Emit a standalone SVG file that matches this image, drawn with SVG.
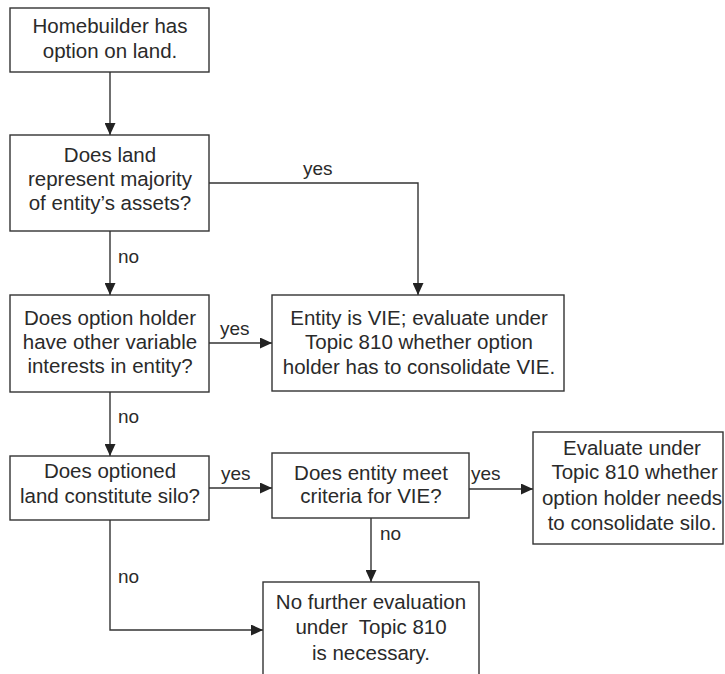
<svg xmlns="http://www.w3.org/2000/svg" width="725" height="674" viewBox="0 0 725 674">
<style>
.box{fill:#fff;stroke:#333;stroke-width:1.4}
.t{font-family:"Liberation Sans",Arial,sans-serif;font-size:20.5px;fill:#2a2a2a;text-anchor:middle;white-space:pre}
.lbl{font-family:"Liberation Sans",Arial,sans-serif;font-size:19px;fill:#2a2a2a}
.c{fill:none;stroke:#333;stroke-width:1.4}
</style>
<defs>
<marker id="ah" markerUnits="userSpaceOnUse" markerWidth="12" markerHeight="11" refX="12" refY="5.5" orient="auto">
<path d="M0,0 L12,5.5 L0,11 z" fill="#222"/>
</marker>
</defs>
<rect width="725" height="674" fill="#fff"/>
<g id="connectors">
<path class="c" d="M110,72 V135" marker-end="url(#ah)"/>
<path class="c" d="M209,183 H418 V295" marker-end="url(#ah)"/>
<path class="c" d="M110,231 V295" marker-end="url(#ah)"/>
<path class="c" d="M209,343 H272" marker-end="url(#ah)"/>
<path class="c" d="M110,392 V456" marker-end="url(#ah)"/>
<path class="c" d="M209,488 H272" marker-end="url(#ah)"/>
<path class="c" d="M469,489 H533" marker-end="url(#ah)"/>
<path class="c" d="M371,518 V582" marker-end="url(#ah)"/>
<path class="c" d="M110,520 V630 H263" marker-end="url(#ah)"/>
<text class="lbl" x="303" y="175">yes</text>
<text class="lbl" x="118" y="263">no</text>
<text class="lbl" x="220" y="335">yes</text>
<text class="lbl" x="118" y="423">no</text>
<text class="lbl" x="221" y="480">yes</text>
<text class="lbl" x="471" y="480">yes</text>
<text class="lbl" x="380" y="540">no</text>
<text class="lbl" x="118" y="583">no</text>
</g>
<g id="start">
<rect class="box" x="10" y="8" width="199" height="64"/>
<text class="t" x="110" y="33">Homebuilder has</text>
<text class="t" x="110" y="58">option on land.</text>
</g>
<g id="majority">
<rect class="box" x="10" y="135" width="199" height="96"/>
<text class="t" x="110" y="162">Does land</text>
<text class="t" x="110" y="186">represent majority</text>
<text class="t" x="110" y="210">of entity’s assets?</text>
</g>
<g id="other-interests">
<rect class="box" x="10" y="295" width="199" height="97"/>
<text class="t" x="110" y="325">Does option holder</text>
<text class="t" x="110" y="349">have other variable</text>
<text class="t" x="110" y="373">interests in entity?</text>
</g>
<g id="vie">
<rect class="box" x="272" y="295" width="292" height="96"/>
<text class="t" x="419" y="325">Entity is VIE; evaluate under</text>
<text class="t" x="419" y="349">Topic 810 whether option</text>
<text class="t" x="419" y="374">holder has to consolidate VIE.</text>
</g>
<g id="silo">
<rect class="box" x="10" y="456" width="199" height="64"/>
<text class="t" x="110" y="478">Does optioned</text>
<text class="t" x="110" y="503">land constitute silo?</text>
</g>
<g id="criteria">
<rect class="box" x="272" y="453" width="197" height="65"/>
<text class="t" x="371" y="480">Does entity meet</text>
<text class="t" x="371" y="503">criteria for VIE?</text>
</g>
<g id="evaluate-silo">
<rect class="box" x="533" y="432" width="190" height="112"/>
<text class="t" x="632" y="455">Evaluate under</text>
<text class="t" x="632" y="479"> Topic 810 whether</text>
<text class="t" x="632" y="505">option holder needs</text>
<text class="t" x="632" y="530">to consolidate silo.</text>
</g>
<g id="no-further">
<rect class="box" x="263" y="582" width="216" height="110"/>
<text class="t" x="371" y="609">No further evaluation</text>
<text class="t" x="371" y="634">under  Topic 810</text>
<text class="t" x="371" y="660">is necessary.</text>
</g>
</svg>
